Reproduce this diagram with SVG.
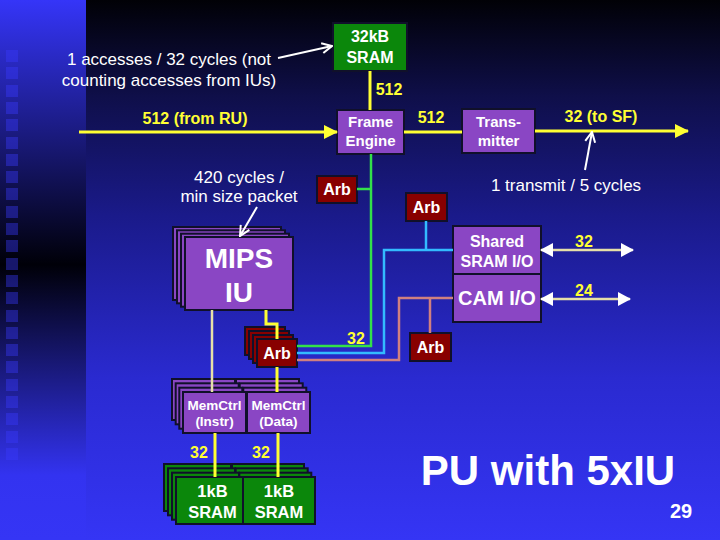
<svg xmlns="http://www.w3.org/2000/svg" width="720" height="540" viewBox="0 0 720 540">
<defs>
<linearGradient id="bgMain" x1="0" y1="0" x2="0" y2="1">
<stop offset="0" stop-color="#010106"/>
<stop offset="0.18" stop-color="#0f0f4a"/>
<stop offset="0.4" stop-color="#1a1a8a"/>
<stop offset="0.7" stop-color="#2a2ad0"/>
<stop offset="1" stop-color="#3535f5"/>
</linearGradient>
<linearGradient id="bgLeft" x1="0" y1="0" x2="0" y2="1">
<stop offset="0" stop-color="#3535f8"/>
<stop offset="0.49" stop-color="#000008"/>
<stop offset="0.88" stop-color="#3333f0"/>
<stop offset="1" stop-color="#3535f5"/>
</linearGradient>
<marker id="hy" viewBox="0 0 14 14" refX="13" refY="7" markerWidth="14" markerHeight="14" orient="auto" markerUnits="userSpaceOnUse">
<path d="M0,0 L14,7 L0,14 z" fill="#ffff33"/>
</marker>
<marker id="hw" viewBox="0 0 13 14" refX="12" refY="7" markerWidth="13" markerHeight="14" orient="auto-start-reverse" markerUnits="userSpaceOnUse">
<path d="M0,0 L13,7 L0,14 z" fill="#ffffff"/>
</marker>
<marker id="ow" viewBox="0 0 12 12" refX="11" refY="6" markerWidth="12" markerHeight="12" orient="auto" markerUnits="userSpaceOnUse">
<path d="M1,1 L11,6 L1,11" fill="none" stroke="#ffffff" stroke-width="2"/>
</marker>
<style>
.box{stroke:#10102a;stroke-width:2}
.pu{fill:#8a46c4}
.gr{fill:#0b870b}
.rd{fill:#880000}
.t{font-family:"Liberation Sans",Arial,sans-serif;font-weight:bold;fill:#ffffff;text-anchor:middle;font-size:16px}
.s15{font-size:15px}
.s13{font-size:13.5px}
.s165{font-size:16.5px}
.s20{font-size:20px}
.s28{font-size:28px}
.s42{font-size:42px}
.y{fill:#ffff33}
.ann{font-family:"Liberation Sans",Arial,sans-serif;fill:#ffffff;font-size:17px;text-anchor:middle}
.ly{stroke:#ffff33;stroke-width:3;fill:none}
.lc{stroke:#e6e0a8;stroke-width:2.5;fill:none}
.lg{stroke:#33e04a;stroke-width:2.5;fill:none}
.lb{stroke:#33bbff;stroke-width:2.5;fill:none}
.lo{stroke:#d08080;stroke-width:2.5;fill:none}
.lw{stroke:#ffffff;stroke-width:2;fill:none}
.sq{fill:#3a3aff;opacity:0.4}
</style>
</defs>

<g id="background">
<rect x="0" y="0" width="720" height="540" fill="url(#bgMain)"/>
<rect x="0" y="0" width="86" height="540" fill="url(#bgLeft)"/>
<g>
<rect class="sq" x="6" y="50" width="12" height="12"/>
<rect class="sq" x="6" y="67" width="12" height="12"/>
<rect class="sq" x="6" y="85" width="12" height="12"/>
<rect class="sq" x="6" y="102" width="12" height="12"/>
<rect class="sq" x="6" y="119" width="12" height="12"/>
<rect class="sq" x="6" y="137" width="12" height="12"/>
<rect class="sq" x="6" y="154" width="12" height="12"/>
<rect class="sq" x="6" y="171" width="12" height="12"/>
<rect class="sq" x="6" y="188" width="12" height="12"/>
<rect class="sq" x="6" y="206" width="12" height="12"/>
<rect class="sq" x="6" y="223" width="12" height="12"/>
<rect class="sq" x="6" y="240" width="12" height="12"/>
<rect class="sq" x="6" y="258" width="12" height="12"/>
<rect class="sq" x="6" y="275" width="12" height="12"/>
<rect class="sq" x="6" y="292" width="12" height="12"/>
<rect class="sq" x="6" y="310" width="12" height="12"/>
<rect class="sq" x="6" y="327" width="12" height="12"/>
<rect class="sq" x="6" y="344" width="12" height="12"/>
<rect class="sq" x="6" y="361" width="12" height="12"/>
<rect class="sq" x="6" y="379" width="12" height="12"/>
<rect class="sq" x="6" y="396" width="12" height="12"/>
<rect class="sq" x="6" y="413" width="12" height="12"/>
<rect class="sq" x="6" y="431" width="12" height="12"/>
<rect class="sq" x="6" y="448" width="12" height="12"/>
</g>
</g>

<g id="sram32">
<rect class="box gr" x="333" y="23" width="74" height="48"/>
<text class="t" x="370" y="42">32kB</text>
<text class="t" x="370" y="63">SRAM</text>
</g>

<g id="frameEngine">
<rect class="box pu" x="337" y="110" width="67" height="44"/>
<text class="t s15" x="370.5" y="127">Frame</text>
<text class="t s15" x="370.5" y="146">Engine</text>
</g>

<g id="transmitter">
<rect class="box pu" x="462" y="109" width="73" height="44"/>
<text class="t s15" x="498.5" y="127">Trans-</text>
<text class="t s15" x="498.5" y="146">mitter</text>
</g>

<g id="arb1">
<rect class="box rd" x="317" y="176" width="40" height="27"/>
<text class="t" x="337" y="195">Arb</text>
</g>

<g id="arb2">
<rect class="box rd" x="406" y="193" width="41" height="28"/>
<text class="t" x="426.5" y="213">Arb</text>
</g>

<g id="arb3">
<rect class="box rd" x="410" y="333" width="41" height="28"/>
<text class="t" x="430.5" y="353">Arb</text>
</g>

<g id="sharedSram">
<rect class="box pu" x="453" y="226" width="88" height="48"/>
<text class="t" x="497" y="247">Shared</text>
<text class="t" x="497" y="267">SRAM I/O</text>
</g>

<g id="camIO">
<rect class="box pu" x="453" y="274" width="88" height="48"/>
<text class="t s20" x="497" y="305">CAM I/O</text>
</g>

<g id="mipsIU">
<rect class="box pu" x="173" y="227" width="108" height="73"/>
<rect class="box pu" x="177" y="230.3" width="108" height="73"/>
<rect class="box pu" x="181" y="233.7" width="108" height="73"/>
<rect class="box pu" x="185" y="237" width="108" height="73"/>
<text class="t s28" x="239" y="268">MIPS</text>
<text class="t s28" x="239" y="302">IU</text>
</g>

<g id="arbStack">
<rect class="box rd" x="245" y="327" width="40" height="28"/>
<rect class="box rd" x="249" y="331" width="40" height="28"/>
<rect class="box rd" x="253" y="335" width="40" height="28"/>
<rect class="box rd" x="257" y="339" width="40" height="28"/>
<text class="t" x="277" y="359">Arb</text>
</g>

<g id="memCtrlData">
<rect class="box pu" x="236" y="379" width="63" height="41"/>
<rect class="box pu" x="239.7" y="383.3" width="63" height="41"/>
<rect class="box pu" x="243.3" y="387.7" width="63" height="41"/>
<rect class="box pu" x="247" y="392" width="63" height="41"/>
<text class="t s13" x="278.5" y="410">MemCtrl</text>
<text class="t s13" x="278.5" y="426">(Data)</text>
</g>

<g id="memCtrlInstr">
<rect class="box pu" x="172" y="379" width="63" height="41"/>
<rect class="box pu" x="175.7" y="383.3" width="63" height="41"/>
<rect class="box pu" x="179.3" y="387.7" width="63" height="41"/>
<rect class="box pu" x="183" y="392" width="63" height="41"/>
<text class="t s13" x="214.5" y="410">MemCtrl</text>
<text class="t s13" x="214.5" y="426">(Instr)</text>
</g>

<g id="sramData">
<rect class="box gr" x="232" y="464" width="72" height="47"/>
<rect class="box gr" x="235.7" y="468.3" width="72" height="47"/>
<rect class="box gr" x="239.3" y="472.7" width="72" height="47"/>
<rect class="box gr" x="243" y="477" width="72" height="47"/>
<text class="t s165" x="279" y="497">1kB</text>
<text class="t s165" x="279" y="518">SRAM</text>
</g>

<g id="sramInstr">
<rect class="box gr" x="164" y="464" width="67" height="47"/>
<rect class="box gr" x="168" y="468.3" width="67" height="47"/>
<rect class="box gr" x="172" y="472.7" width="67" height="47"/>
<rect class="box gr" x="176" y="477" width="67" height="47"/>
<text class="t s165" x="212.5" y="497">1kB</text>
<text class="t s165" x="212.5" y="518">SRAM</text>
</g>

<g id="connectors">
<line class="ly" x1="79" y1="132" x2="337" y2="132" marker-end="url(#hy)"/>
<line class="ly" x1="370" y1="71" x2="370" y2="110"/>
<line class="ly" x1="404" y1="132" x2="462" y2="132"/>
<line class="ly" x1="535" y1="131" x2="688" y2="131" marker-end="url(#hy)"/>
<line class="lc" x1="541" y1="250" x2="633" y2="250" marker-start="url(#hw)" marker-end="url(#hw)"/>
<line class="lc" x1="541" y1="299" x2="630" y2="299" marker-start="url(#hw)" marker-end="url(#hw)"/>
<polyline class="lg" points="371,154 371,346 297,346"/>
<line class="lg" x1="357" y1="189" x2="371" y2="189"/>
<line class="lb" x1="426" y1="221" x2="426" y2="250"/>
<polyline class="lb" points="453,250 384,250 384,353 297,353"/>
<polyline class="lo" points="453,298 399,298 399,360 297,360"/>
<line class="lo" x1="430" y1="298" x2="430" y2="333"/>
<line class="lc" x1="212" y1="310" x2="212" y2="392"/>
<polyline class="ly" points="266,310 266,324 277,324 277,339"/>
<line class="ly" x1="277" y1="367" x2="277" y2="392"/>
<line class="ly" x1="215" y1="433" x2="215" y2="477"/>
<line class="ly" x1="278" y1="433" x2="278" y2="477"/>
<line class="lw" x1="278" y1="58" x2="332" y2="46" marker-end="url(#ow)"/>
<line class="lw" x1="257" y1="207" x2="240" y2="236" marker-end="url(#ow)"/>
<line class="lw" x1="585" y1="170" x2="592" y2="132" marker-end="url(#ow)"/>
</g>

<g id="labels">
<text class="t y" x="195" y="124">512 (from RU)</text>
<text class="t y" x="389" y="95">512</text>
<text class="t y" x="431" y="123">512</text>
<text class="t y" x="601" y="122">32 (to SF)</text>
<text class="t y" x="584" y="247">32</text>
<text class="t y" x="584" y="296">24</text>
<text class="t y" x="356" y="344">32</text>
<text class="t y" x="199" y="458">32</text>
<text class="t y" x="261" y="458">32</text>
<text class="ann" x="169" y="65">1 accesses / 32 cycles (not</text>
<text class="ann" x="169" y="86">counting accesses from IUs)</text>
<text class="ann" x="239" y="183">420 cycles /</text>
<text class="ann" x="239" y="202">min size packet</text>
<text class="ann" x="566" y="191">1 transmit / 5 cycles</text>
<text class="t s42" x="548" y="485">PU with 5xIU</text>
<text class="t s20" x="681" y="518">29</text>
</g>
</svg>
